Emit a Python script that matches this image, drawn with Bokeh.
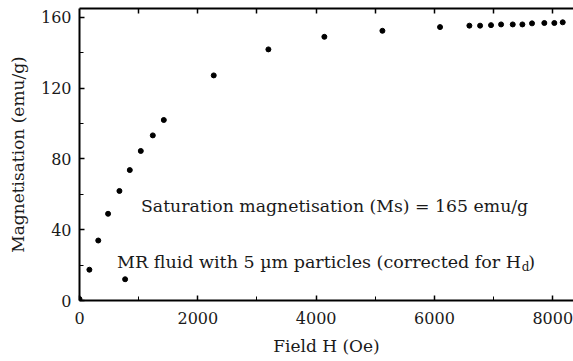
from bokeh.plotting import figure
from bokeh.models import Range1d, LinearAxis, FixedTicker, Label
from bokeh.embed import file_html
from bokeh.resources import INLINE

# Data
field_h = [0, 167, 317, 483, 675, 771, 850, 1036, 1239, 1425, 2269, 3193, 4139,
           5120, 6094, 6590, 6771, 6956, 7126, 7323, 7486, 7649, 7857, 8026, 8168]
magnetisation = [0.8, 17.4, 33.9, 49.0, 61.9, 12.0, 73.7, 84.5, 93.3, 102.0, 127.2,
                 141.9, 149.0, 152.4, 154.5, 155.3, 155.3, 155.6, 156.0, 156.0, 156.0,
                 156.6, 156.8, 156.8, 157.2]

x_major = [0, 2000, 4000, 6000, 8000]
x_minor = [1000, 3000, 5000, 7000]
x_top = [1000, 2000, 3000, 4000, 5000, 6000, 7000, 8000]
y_major = [0, 40, 80, 120, 160]
y_minor = [20, 60, 100, 140]

FONT = "DejaVu Serif"
TXT = "#1a1a1a"

p = figure(width=573, height=361, output_backend="svg", toolbar_location=None,
           x_range=Range1d(0, 8350), y_range=Range1d(0, 165),
           x_axis_label="Field H (Oe)", y_axis_label="Magnetisation (emu/g)",
           min_border_left=79, min_border_right=0, min_border_top=8, min_border_bottom=61)
p.outline_line_color = None
p.grid.visible = False

p.scatter(field_h, magnetisation, size=5, color="black")

for ax in p.xaxis:
    ax.ticker = FixedTicker(ticks=x_major, minor_ticks=x_minor)
for ax in p.yaxis:
    ax.ticker = FixedTicker(ticks=y_major, minor_ticks=y_minor)

for ax in list(p.xaxis) + list(p.yaxis):
    ax.axis_line_width = 2
    ax.axis_line_color = "black"
    ax.major_tick_in = 5
    ax.major_tick_out = 0
    ax.minor_tick_in = 4
    ax.minor_tick_out = 0
    ax.major_tick_line_width = 1.5
    ax.minor_tick_line_width = 1
    ax.major_label_text_font = FONT
    ax.major_label_text_font_size = "16px"
    ax.major_label_text_color = TXT
    ax.axis_label_text_font = FONT
    ax.axis_label_text_font_size = "17px"
    ax.axis_label_text_font_style = "normal"
    ax.axis_label_text_color = TXT

p.xaxis.major_label_standoff = 11
p.xaxis.axis_label_standoff = 9
p.yaxis.major_label_standoff = 8
p.yaxis.axis_label_standoff = 10

top = LinearAxis(ticker=FixedTicker(ticks=[], minor_ticks=x_top))
top.axis_line_width = 2
top.axis_line_color = "black"
top.major_tick_in = 0
top.major_tick_out = 0
top.minor_tick_in = 5
top.minor_tick_out = 0
top.minor_tick_line_width = 1.5
top.major_label_standoff = 0
p.add_layout(top, "above")

ann = dict(text_font=FONT, text_color=TXT, text_baseline="alphabetic")
p.add_layout(Label(x=1040, y=53.4, text="Saturation magnetisation (Ms) = 165 emu/g",
                   text_font_size="17.3px", **ann))
p.add_layout(Label(x=7463, y=21.9, text="MR fluid with 5 \u00b5m particles (corrected for H",
                   text_align="right", text_font_size="17.5px", **ann))
p.add_layout(Label(x=7475, y=19.0, text="d", text_font_size="12px", **ann))
p.add_layout(Label(x=7585, y=21.9, text=")", text_font_size="17.5px", **ann))

open("out.html", "w").write(file_html(p, INLINE))
